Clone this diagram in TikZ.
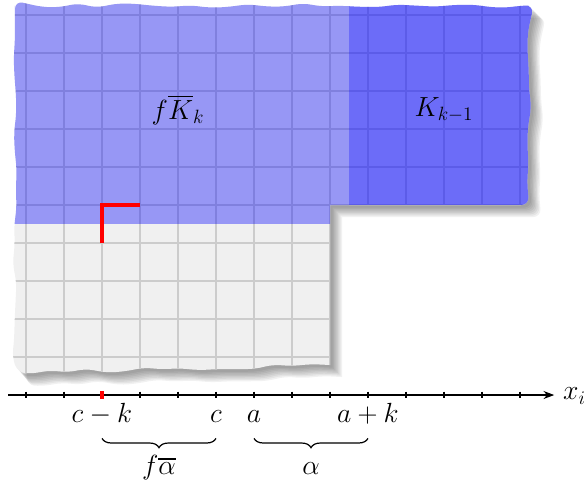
\documentclass[tikz,border=0pt]{standalone}
\usepackage{amsmath,amssymb}
\usepackage{xcolor}
\usepackage{tikz}
\usetikzlibrary{arrows.meta,decorations.pathmorphing,decorations.pathreplacing}

% torn sheet outline (step at the lower right)
\newcommand{\sheetoutline}{(8,0.79)
  decorate[decoration={random steps,segment length=14pt,amplitude=1.8pt},rounded corners=6pt]
  {-- (-0.29,0.79) -- (-0.29,10.25) -- (13.24,10.25) -- (13.24,5)} -- (8,5) -- cycle}

\begin{document}
\begin{tikzpicture}[x=1cm,y=1cm,
  lbl/.style={font=\huge,inner sep=0pt},
  brc/.style={decorate,decoration={brace,mirror,amplitude=7pt},line width=0.9pt}]
  \useasboundingbox (-0.684,-2.289) rectangle (14.763,10.395);
  % Shadow
  \foreach \s in {1,...,8}{
    \pgfmathsetseed{42}
    \fill[black,opacity=0.055,shift={({(\s+1)*1pt},{-(\s+1)*1pt})}] \sheetoutline;
  }
  % Sheet
  \pgfmathsetseed{42}
  \fill[black!6] \sheetoutline;
  \begin{scope}
    \pgfmathsetseed{42}
    \clip \sheetoutline;
    \draw[black!20,line width=1.4pt] (-1,0) grid (14,11);
    \fill[blue,opacity=0.37] (-1,4.5) rectangle (8.5,11);
    \fill[blue,opacity=0.55] (8.5,5) rectangle (14,11);
  \end{scope}
  % Corner mark
  \draw[red,line width=2.5pt] (2,4) -- (2,5) -- (3,5);
  % Region labels
  \node[lbl] (fK) at (4,7.5) {$f\overline{K}_k$};
  \node[lbl] (Km) at (11,7.5) {$K_{k-1}$};
  % Axis
  \coordinate (axl) at (-0.47,0);
  \coordinate (axr) at (13.9,0);
  \draw[-{Stealth[length=8pt,width=6pt]},line width=0.9pt] (axl) -- (axr);
  \node[lbl,anchor=base west] (xi) at (14.13,-0.13) {$x_i$};
  \foreach \i in {0,...,13}{
    \coordinate (t\i) at (\i,0);
    \draw[line width=0.9pt] (\i,0.09) -- (\i,-0.09);
  }
  \draw[red,line width=2.6pt] (2,0.1) -- (2,-0.1);
  % Labels below axis
  \node[lbl,anchor=base] (ck) at (2,-0.72) {$c-k$};
  \node[lbl,anchor=base] (c)  at (5,-0.72) {$c$};
  \node[lbl,anchor=base] (a)  at (6,-0.72) {$a$};
  \node[lbl,anchor=base] (ak) at (9,-0.72) {$a+k$};
  % Braces
  \coordinate (b2) at (2,-1.14);
  \coordinate (b5) at (5,-1.14);
  \coordinate (b6) at (6,-1.14);
  \coordinate (b9) at (9,-1.14);
  \draw[brc] (b2) -- (b5);
  \draw[brc] (b6) -- (b9);
  \node[lbl,anchor=base] (fal) at (3.5,-2.1) {$f\overline{\alpha}$};
  \node[lbl,anchor=base] (al)  at (7.5,-2.1) {$\alpha$};
\end{tikzpicture}
\end{document}
